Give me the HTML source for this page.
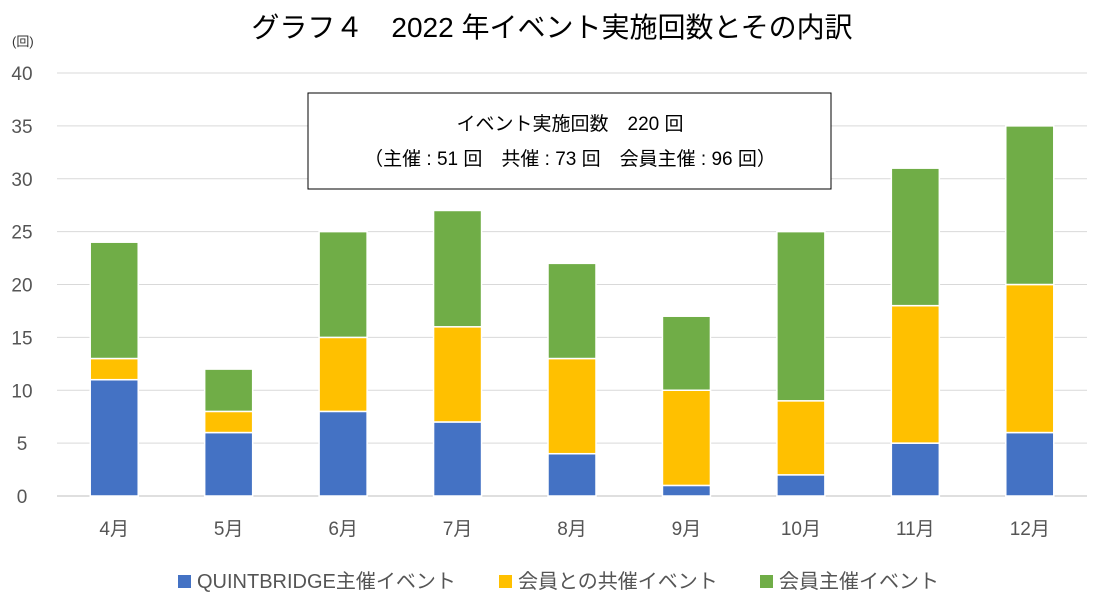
<!DOCTYPE html>
<html><head><meta charset="utf-8"><style>
body{margin:0;background:#fff;font-family:"Liberation Sans","Noto Sans CJK JP",sans-serif;}
</style></head><body>
<svg width="1117" height="607" font-family="Liberation Sans, Noto Sans CJK JP, sans-serif">
<text x="552" y="37" font-size="28" text-anchor="middle" fill="#000">グラフ４　2022 年イベント実施回数とその内訳</text>
<text x="12" y="46" font-size="13" fill="#333">(回)</text>
<g id="grid"></g><g id="bars"></g><g id="xl"></g>
<rect x="308" y="93" width="523" height="96" fill="#fff" stroke="#000" stroke-width="1"/>
<text x="570" y="130" font-size="19" text-anchor="middle">イベント実施回数　220 回</text>
<text x="570" y="165" font-size="19" text-anchor="middle">（主催 : 51 回　共催 : 73 回　会員主催 : 96 回）</text>
<g>
<rect x="178" y="575" width="13" height="13" fill="#4472C4"/>
<text x="197" y="588" font-size="20" fill="#555">QUINTBRIDGE主催イベント</text>
<rect x="499" y="575" width="13" height="13" fill="#FFC000"/>
<text x="518" y="588" font-size="20" fill="#555">会員との共催イベント</text>
<rect x="760" y="575" width="13" height="13" fill="#70AD47"/>
<text x="779" y="588" font-size="20" fill="#555">会員主催イベント</text>
</g>
</svg>
<script>
const categories=["4月","5月","6月","7月","8月","9月","10月","11月","12月"];
const hostValues=[11,6,8,7,4,1,2,5,6];
const cohostValues=[2,2,7,9,9,9,7,13,14];
const memberValues=[11,4,10,11,9,7,16,13,15];
const yTicks=[0,5,10,15,20,25,30,35,40];
const NS="http://www.w3.org/2000/svg";
const x0=57,x1=1087,yb=496,yt=73,ymax=40;
const y=v=>yb-(v/ymax)*(yb-yt);
const step=(x1-x0)/categories.length;
const xc=i=>x0+step*(i+0.5);
const bw=48;
function mk(t,a,p){const e=document.createElementNS(NS,t);for(const k in a)e.setAttribute(k,a[k]);p.appendChild(e);return e;}
const g=document.getElementById('grid'),b=document.getElementById('bars'),xl=document.getElementById('xl');
yTicks.forEach(t=>{
 const l=mk('line',{x1:x0,x2:x1,y1:y(t),y2:y(t),stroke:t===0?'#bfbfbf':'#d9d9d9','stroke-width':1},g);
 
 
 const tx=mk('text',{x:22,y:y(t)+7,'font-size':19,'text-anchor':'middle',fill:'#555'},g);
 tx.textContent=t;
 
 
});
const series=[[hostValues,'#4472C4','host'],[cohostValues,'#FFC000','cohost'],[memberValues,'#70AD47','member']];
categories.forEach((c,i)=>{
 let acc=0;
 series.forEach(([vals,col,nm])=>{
  const v=vals[i];
  const r=mk('rect',{x:xc(i)-bw/2,y:y(acc+v),width:bw,height:y(acc)-y(acc+v),fill:col,stroke:'#fff','stroke-width':1.5},b);
  
  
  acc+=v;
 });
 const t=mk('text',{x:xc(i),y:535,'font-size':19,'text-anchor':'middle',fill:'#555'},xl);
 t.textContent=c;
 
 
});
</script>
</body></html>
